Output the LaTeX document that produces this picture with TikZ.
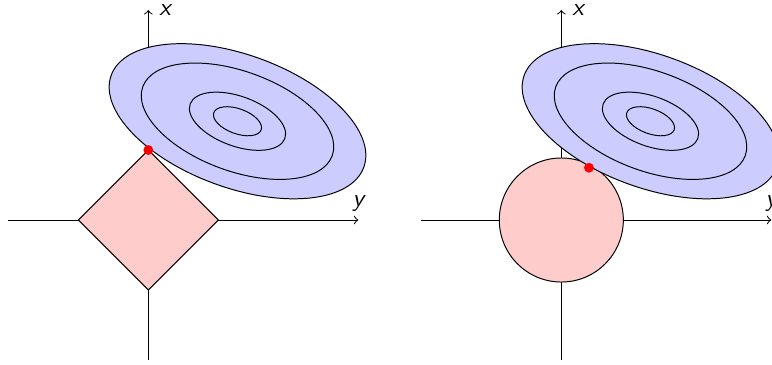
\documentclass[tikz,border=0pt]{standalone}
\begin{document}
\begin{tikzpicture}[font=\sffamily\slshape,
  axis/.style={->},
  xlab/.style={anchor=west, inner sep=0pt, xshift=4.3pt},
  ball/.style={draw, fill=red!20},
  loss/.style={draw, fill=blue!20},
  hit/.style={fill=red}
]
  \useasboundingbox (-2.119,-2.071) rectangle (8.91,3.143);
  % Lasso (L1)
  \begin{scope}
    \coordinate (o1) at (0,0);
    \draw[axis] (-2,0) -- (3,0) node[above] (ly1) {y};
    \draw[axis] (0,-2) -- (0,3) node[xlab] (lx1) {x};
    \draw[ball] (1,0) -- (0,1) -- (-1,0) -- (0,-1) -- cycle;
    \begin{scope}[shift={(1.274,1.411)}, rotate=-20]
      \draw[loss] (0,0) ellipse (1.92 and 0.95);
      \foreach \s in {0.75,0.375,0.1875}
        \draw (0,0) ellipse ({1.92*\s} and {0.95*\s});
    \end{scope}
    \fill[hit] (0,1) circle (2pt);
  \end{scope}
  % Ridge (L2)
  \begin{scope}[xshift=5.9cm]
    \coordinate (o2) at (0,0);
    \draw[axis] (-2,0) -- (3,0) node[above] (ly2) {y};
    \draw[axis] (0,-2) -- (0,3) node[xlab] (lx2) {x};
    \draw[ball] (0,0) circle (0.886);
    \begin{scope}[shift={(1.274,1.411)}, rotate=-20]
      \draw[loss] (0,0) ellipse (1.92 and 0.95);
      \foreach \s in {0.75,0.375,0.1875}
        \draw (0,0) ellipse ({1.92*\s} and {0.95*\s});
    \end{scope}
    \fill[hit] (0.395,0.747) circle (2pt);
  \end{scope}
\end{tikzpicture}
\end{document}
